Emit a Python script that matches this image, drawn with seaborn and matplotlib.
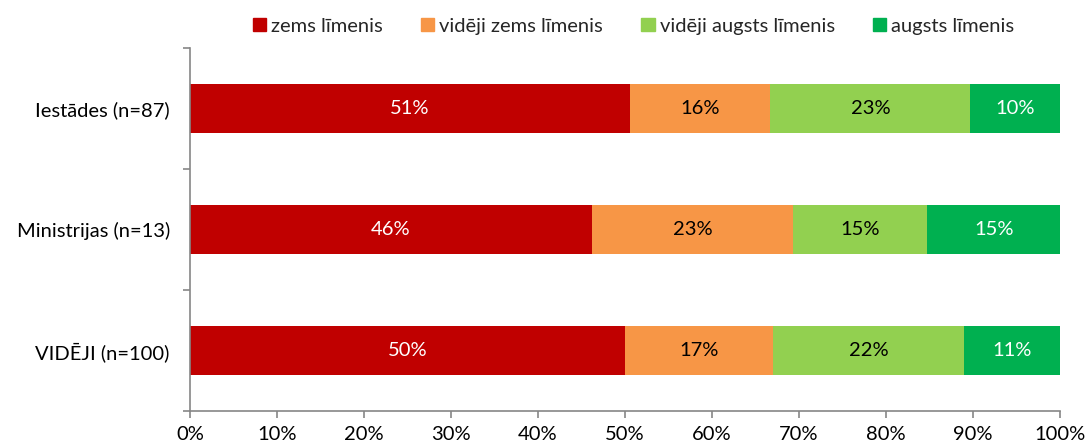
import matplotlib.pyplot as plt
import matplotlib.patches as mpatches
import numpy as np
import pandas as pd
import seaborn as sns

# Data (percent of respondents)
groups = ["Iestādes (n=87)", "Ministrijas (n=13)", "VIDĒJI (n=100)"]
levels = ["zems līmenis", "vidēji zems līmenis", "vidēji augsts līmenis", "augsts līmenis"]
zems = [50.6, 46.2, 50.0]
videji_zems = [16.1, 23.1, 17.0]
videji_augsts = [23.0, 15.4, 22.0]
augsts = [10.3, 15.4, 11.0]

colors = ["#C00000", "#F79646", "#92D050", "#00B050"]
text_colors = ["white", "black", "black", "white"]
x_ticks = [0, 10, 20, 30, 40, 50, 60, 70, 80, 90, 100]

sns.set_theme(style="white")
plt.rcParams["font.family"] = ["Lato", "DejaVu Sans"]
fs = 14.5

df = pd.DataFrame({"group": groups, levels[0]: zems, levels[1]: videji_zems,
                   levels[2]: videji_augsts, levels[3]: augsts})
cum = df[levels].cumsum(axis=1)

fig = plt.figure(figsize=(10.9, 4.45), dpi=100)
ax = fig.add_axes([0.1743, 0.0764, 0.7982, 0.8156])

# stacked bars: draw cumulative totals from the largest down
for i in range(len(levels) - 1, -1, -1):
    sns.barplot(x=cum[levels[i]], y=df["group"], orient="h", color=colors[i],
                width=0.41, saturation=1, ax=ax, linewidth=0)

# segment labels
for r in range(len(groups)):
    for i, lev in enumerate(levels):
        val = df.loc[r, lev]
        center = cum.loc[r, lev] - val / 2
        ax.text(center, r, f"{val:.0f}%", ha="center", va="center",
                color=text_colors[i], fontsize=fs)

ax.set_xlim(0, 100)
ax.set_ylim(2.5, -0.5)
ax.set_xticks(x_ticks)
ax.set_xticklabels([f"{t}%" for t in x_ticks], fontsize=fs)
ax.set_yticks(range(len(groups)))
ax.set_yticklabels(groups, fontsize=fs)
ax.set_yticks([-0.5, 0.5, 1.5, 2.5], minor=True)
ax.set_xlabel("")
ax.set_ylabel("")

for side in ["top", "right"]:
    ax.spines[side].set_visible(False)
for side in ["left", "bottom"]:
    ax.spines[side].set_color("#868686")
    ax.spines[side].set_linewidth(1.2)

ax.tick_params(axis="y", which="major", length=0, pad=14.5, colors="black")
ax.tick_params(axis="y", which="minor", left=True, length=5, width=1.2, color="#868686")
ax.tick_params(axis="x", which="major", bottom=True, length=5, width=1.2,
               color="#868686", labelcolor="black", pad=6)

handles = [mpatches.Patch(color=c, label=l) for c, l in zip(colors, levels)]
ax.legend(handles=handles, ncol=4, loc="center", bbox_to_anchor=(0.51, 1.06),
          frameon=False, fontsize=fs, handlelength=0.65, handleheight=0.65,
          handletextpad=0.25, columnspacing=1.9)

plt.savefig("out.png", dpi=100)
